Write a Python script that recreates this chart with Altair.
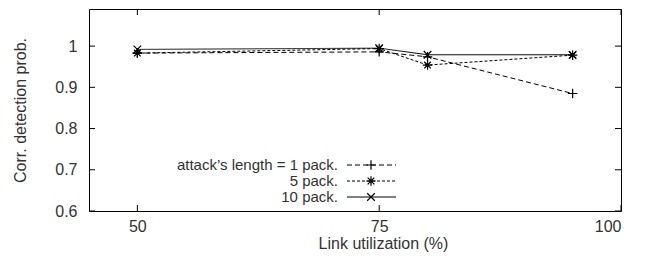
import altair as alt
import pandas as pd

# ---- data ----
utilization = [50, 75, 80, 95]
p_1pack = [0.983, 0.986, 0.974, 0.885]
p_5pack = [0.983, 0.994, 0.954, 0.978]
p_10pack = [0.992, 0.995, 0.979, 0.979]
series_names = ["attack\u2019s length = 1 pack.", "5 pack.", "10 pack."]
y_ticks = [0.6, 0.7, 0.8, 0.9, 1.0]
x_ticks = [50, 75, 100]

# ---- styling / layout ----
W, H = 532, 202
FONT = "Liberation Sans"
TXT = "#333333"
PLUS = "M-1,0L1,0M0,-1L0,1"
STAR = "M-1,0L1,0M0,-1L0,1M-0.7,-0.7L0.7,0.7M-0.7,0.7L0.7,-0.7"
CROSS = "M-0.8,-0.8L0.8,0.8M-0.8,0.8L0.8,-0.8"
shapes = [PLUS, STAR, CROSS]
dashes = [[5, 3], [3, 2], [1, 0]]
legend_rows_y = [156, 172, 188]

rows = []
for name, vals in zip(series_names, [p_1pack, p_5pack, p_10pack]):
    for u, v in zip(utilization, vals):
        rows.append({"series": name, "u": u, "p": v})
df = pd.DataFrame(rows)

xscale = alt.Scale(domain=[45, 100], nice=False, zero=False)
yscale = alt.Scale(domain=[0.6, 1.09], nice=False, zero=False)

x_enc = alt.X(
    "u:Q", scale=xscale,
    axis=alt.Axis(values=x_ticks, ticks=False, domain=False, grid=False,
                  labelPadding=7, title="Link utilization (%)",
                  titleX=294, titleY=32, titleBaseline="middle", titleAlign="center"),
)
y_enc = alt.Y(
    "p:Q", scale=yscale,
    axis=alt.Axis(values=y_ticks, format=".1~f", ticks=False, domain=False, grid=False,
                  labelPadding=12, title="Corr. detection prob.",
                  titleX=-69, titleY=H / 2, titleBaseline="middle", titleAlign="center",
                  titleAngle=-90),
)

layers = []
for name, shape, dash in zip(series_names, shapes, dashes):
    base = alt.Chart(df).transform_filter(alt.datum.series == name)
    layers.append(base.mark_line(stroke="black", strokeWidth=1, strokeDash=dash)
                  .encode(x=x_enc, y=y_enc))
    layers.append(base.mark_point(shape=shape, filled=False, stroke="black",
                                  strokeWidth=1.2, size=90, opacity=1)
                  .encode(x=x_enc, y=y_enc))

# inward ticks on all four sides (gnuplot style)
ydf = pd.DataFrame({"p": y_ticks})
xdf = pd.DataFrame({"u": x_ticks})
tick_style = dict(color="black", strokeWidth=1)
layers.append(alt.Chart(ydf).mark_rule(**tick_style).encode(y=y_enc, x=alt.value(0), x2=alt.value(6)))
layers.append(alt.Chart(ydf).mark_rule(**tick_style).encode(y=y_enc, x=alt.value(W - 6), x2=alt.value(W)))
layers.append(alt.Chart(xdf).mark_rule(**tick_style).encode(x=x_enc, y=alt.value(H - 6), y2=alt.value(H)))
layers.append(alt.Chart(xdf).mark_rule(**tick_style).encode(x=x_enc, y=alt.value(0), y2=alt.value(6)))

# legend (inside the plot, labels right aligned, samples to the right)
for name, shape, dash, ly in zip(series_names, shapes, dashes, legend_rows_y):
    ldf = pd.DataFrame({"label": [name]})
    layers.append(alt.Chart(ldf).mark_text(align="right", baseline="middle", font=FONT,
                                           fontSize=15, color=TXT)
                  .encode(text="label:N", x=alt.value(249), y=alt.value(ly)))
    layers.append(alt.Chart(ldf).mark_rule(color="black", strokeWidth=1, strokeDash=dash)
                  .encode(x=alt.value(258), x2=alt.value(307), y=alt.value(ly)))
    layers.append(alt.Chart(ldf).mark_point(shape=shape, filled=False, stroke="black",
                                            strokeWidth=1.2, size=90, opacity=1)
                  .encode(x=alt.value(282), y=alt.value(ly)))

chart = alt.layer(*layers).properties(
    width=W, height=H,
    autosize=alt.AutoSizeParams(type="none"),
    padding={"left": 81, "top": 1, "right": 12, "bottom": 42},
).configure_view(
    stroke="black", strokeWidth=1
).configure_axis(
    labelFont=FONT, labelFontSize=16, labelColor=TXT,
    titleFont=FONT, titleFontSize=16, titleFontWeight="normal", titleColor=TXT,
)

chart.save("out.html", embed_options={"renderer": "svg", "actions": False})
